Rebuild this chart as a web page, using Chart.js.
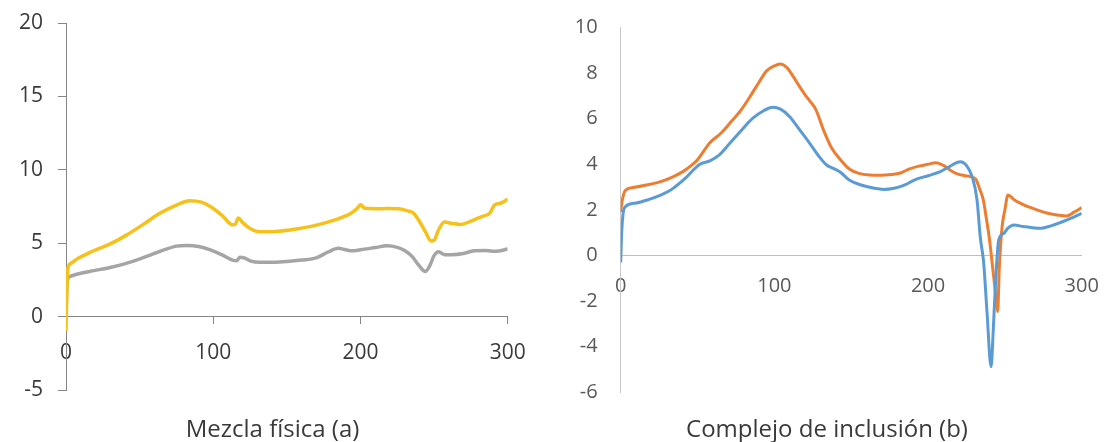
<!DOCTYPE html>
<html>
<head>
<meta charset="utf-8">
<script src="https://cdn.jsdelivr.net/npm/chart.js@4.4.0/dist/chart.umd.min.js"></script>
<style>
  html, body { margin: 0; padding: 0; background: #fff; }
  #wrap { position: relative; width: 1104px; height: 442px; }
  #mezcla { position: absolute; left: 0; top: 0; }
  #complejo { position: absolute; left: 550px; top: 0; }
</style>
</head>
<body>
<div id="wrap">
  <canvas id="mezcla" width="545" height="442"></canvas>
  <canvas id="complejo" width="554" height="442"></canvas>
</div>
<script>
// Mezcla física (a)
const mezclaTicksX = [0, 100, 200, 300];
const mezclaTicksY = [-5, 0, 5, 10, 15, 20];
const mezclaAmarilloX = [0, 0.4, 1.2, 3, 8, 18, 30, 41, 52, 64, 75, 84, 92, 98, 106, 113, 115, 117, 120, 125,
  130, 140, 152, 168, 180, 187, 193, 198, 200, 203, 210, 218, 226, 232, 236, 240, 244, 248, 250, 253,
  257, 262, 268, 275, 282, 288, 291, 295, 300];
const mezclaAmarilloY = [-1.0, 1.0, 3.2, 3.6, 3.95, 4.45, 4.95, 5.55, 6.25, 7.05, 7.6, 7.9, 7.8, 7.5, 6.9, 6.25, 6.3, 6.72, 6.4, 6.0,
  5.8, 5.78, 5.9, 6.18, 6.5, 6.75, 7.0, 7.4, 7.62, 7.38, 7.35, 7.36, 7.35, 7.2, 7.05, 6.5, 5.8, 5.15, 5.2, 5.9,
  6.45, 6.35, 6.28, 6.5, 6.8, 7.07, 7.6, 7.72, 8.0];
const mezclaGrisX = [0, 0.8, 3, 10, 19, 30, 41, 52, 64, 75, 82, 90, 98, 106, 113, 116, 118, 121, 125, 132,
  145, 160, 170, 178, 185, 190, 194, 200, 210, 218, 225, 230, 235, 240, 244, 247, 250, 253, 257, 262,
  270, 277, 285, 292, 300];
const mezclaGrisY = [0.3, 2.4, 2.75, 2.95, 3.13, 3.35, 3.63, 4.0, 4.45, 4.8, 4.85, 4.78, 4.55, 4.2, 3.85, 3.8, 4.05, 4.0, 3.8, 3.7,
  3.72, 3.85, 4.0, 4.4, 4.65, 4.55, 4.48, 4.55, 4.7, 4.82, 4.72, 4.5, 4.1, 3.45, 3.07, 3.45, 4.15, 4.42, 4.22, 4.22,
  4.3, 4.48, 4.5, 4.45, 4.6];

// Complejo de inclusión (b)
const complejoTicksX = [0, 100, 200, 300];
const complejoTicksY = [-6, -4, -2, 0, 2, 4, 6, 8, 10];
const complejoNaranjaX = [0, 0.7, 3, 8, 16, 26, 34, 41, 46, 50, 58, 65, 71, 78, 84, 90, 95, 100, 104, 108,
  112, 116, 120, 123, 127, 132, 137, 143, 149, 155, 162, 169, 176, 182, 188, 194, 200, 205, 210, 215,
  219, 224, 228, 231, 234, 236, 238, 240, 242.7, 244.5, 245.3, 246.4, 248.2, 250, 252, 256, 260, 265, 271, 278,
  284, 290, 295, 300];
const complejoNaranjaY = [1.9, 2.3, 2.85, 2.98, 3.08, 3.24, 3.45, 3.7, 3.95, 4.2, 4.95, 5.35, 5.8, 6.35, 6.95, 7.6, 8.1, 8.32, 8.4, 8.25,
  7.88, 7.45, 7.05, 6.78, 6.4, 5.5, 4.75, 4.2, 3.78, 3.6, 3.53, 3.52, 3.55, 3.62, 3.8, 3.92, 4.0, 4.07, 3.95, 3.72,
  3.58, 3.5, 3.45, 3.35, 2.85, 2.43, 1.6, 0.7, -0.93, -2.0, -2.46, -0.5, 1.26, 2.0, 2.65, 2.45, 2.3, 2.14, 2.0, 1.85,
  1.78, 1.73, 1.9, 2.1];
const complejoAzulX = [0, 0.5, 1.5, 3, 10, 18, 26, 32, 37, 43, 48, 52, 58, 64, 71, 78, 86, 93, 99, 104,
  110, 116, 123, 129, 134, 139, 143, 149, 157, 165, 171, 178, 185, 191, 200, 208, 214, 221, 225, 228.7,
  231.9, 234, 236.2, 238.4, 241, 242.5, 243.9, 246, 249.3, 252, 255.8, 262, 268, 273, 280, 290.5, 300];
const complejoAzulY = [-0.3, 0.8, 1.8, 2.14, 2.3, 2.45, 2.65, 2.85, 3.1, 3.45, 3.8, 4.02, 4.15, 4.4, 4.92, 5.45, 6.02, 6.35, 6.5, 6.42,
  6.09, 5.55, 4.92, 4.35, 3.97, 3.8, 3.65, 3.3, 3.08, 2.95, 2.9, 2.95, 3.1, 3.31, 3.5, 3.68, 3.9, 4.11, 3.95, 3.46,
  2.43, 0.8, -0.3, -2.5, -4.88, -3.2, -1.22, 0.68, 0.97, 1.2, 1.34, 1.27, 1.22, 1.19, 1.3, 1.56, 1.85];

const fontName = "'Open Sans', 'DejaVu Sans', sans-serif";

// pair x and y arrays into points
function puntos(xs, ys) {
  return xs.map((x, i) => ({ x: x, y: ys[i] }));
}

function serie(xs, ys, color, width) {
  return {
    data: puntos(xs, ys),
    borderColor: color,
    borderWidth: width,
    pointRadius: 0,
    showLine: true,
    fill: false,
    cubicInterpolationMode: 'monotone'
  };
}

// keep the label overhang from pushing the plot area around
function fijarY(ancho) {
  return function (scale) {
    scale.width = ancho;
    scale.paddingTop = 0;
    scale.paddingBottom = 0;
  };
}
function fijarX(scale) {
  scale.paddingLeft = 0;
  scale.paddingRight = 0;
}

// center the bottom title on the whole canvas, not on the padded box
const tituloCompleto = {
  id: 'tituloCompleto',
  afterLayout(chart) {
    const t = chart.titleBlock;
    if (t) {
      t.left = 0;
      t.right = chart.width;
      t.width = chart.width;
    }
  }
};

// --- left chart ---
new Chart('mezcla', {
  type: 'scatter',
  data: {
    datasets: [
      serie(mezclaAmarilloX, mezclaAmarilloY, '#F5C11A', 3.5),
      serie(mezclaGrisX, mezclaGrisY, '#A5A5A5', 3.5)
    ]
  },
  options: {
    responsive: false,
    animation: false,
    layout: { padding: { left: 0, right: 37.3, top: 23, bottom: 0 } },
    plugins: {
      legend: { display: false },
      tooltip: { enabled: false },
      title: {
        display: true,
        text: 'Mezcla física (a)',
        position: 'bottom',
        color: '#3a3a3a',
        font: { family: fontName, size: 24, weight: 'normal', lineHeight: 1 },
        padding: { top: 28, bottom: 0 }
      }
    },
    scales: {
      x: {
        type: 'linear',
        position: { y: 0 },
        min: mezclaTicksX[0],
        max: mezclaTicksX[mezclaTicksX.length - 1],
        ticks: {
          stepSize: mezclaTicksX[1] - mezclaTicksX[0],
          padding: 17,
          color: '#3a3a3a',
          font: { family: fontName, size: 21 },
          maxRotation: 0
        },
        grid: { drawOnChartArea: false, drawTicks: true, tickLength: 7, color: '#868686' },
        border: { display: true, color: '#868686', width: 1 },
        afterFit: fijarX
      },
      y: {
        min: mezclaTicksY[0],
        max: mezclaTicksY[mezclaTicksY.length - 1],
        ticks: {
          stepSize: mezclaTicksY[1] - mezclaTicksY[0],
          padding: 15,
          color: '#3a3a3a',
          font: { family: fontName, size: 21 }
        },
        grid: { drawOnChartArea: false, drawTicks: true, tickLength: 8, color: '#868686' },
        border: { display: true, color: '#868686', width: 1 },
        afterFit: fijarY(66)
      }
    }
  },
  plugins: [tituloCompleto]
});

// --- right chart ---
new Chart('complejo', {
  type: 'scatter',
  data: {
    datasets: [
      serie(complejoAzulX, complejoAzulY, '#5B9BD5', 3),
      serie(complejoNaranjaX, complejoNaranjaY, '#ED7D31', 3)
    ]
  },
  options: {
    responsive: false,
    animation: false,
    layout: { padding: { left: 0, right: 22.3, top: 27.5, bottom: 0 } },
    plugins: {
      legend: { display: false },
      tooltip: { enabled: false },
      title: {
        display: true,
        text: 'Complejo de inclusión (b)',
        position: 'bottom',
        color: '#3a3a3a',
        font: { family: fontName, size: 24, weight: 'normal', lineHeight: 1 },
        padding: { top: 25.7, bottom: 0 }
      }
    },
    scales: {
      x: {
        type: 'linear',
        position: { y: 0 },
        min: complejoTicksX[0],
        max: complejoTicksX[complejoTicksX.length - 1],
        ticks: {
          stepSize: complejoTicksX[1] - complejoTicksX[0],
          padding: 19,
          color: '#595959',
          font: { family: fontName, size: 20 },
          maxRotation: 0
        },
        grid: { drawOnChartArea: false, drawTicks: false },
        border: { display: true, color: '#BFBFBF', width: 1 },
        afterFit: fijarX
      },
      y: {
        min: complejoTicksY[0],
        max: complejoTicksY[complejoTicksY.length - 1],
        ticks: {
          stepSize: complejoTicksY[1] - complejoTicksY[0],
          padding: 23,
          color: '#595959',
          font: { family: fontName, size: 20 }
        },
        grid: { drawOnChartArea: false, drawTicks: false },
        border: { display: true, color: '#C8C8C8', width: 1 },
        afterFit: fijarY(70.7)
      }
    }
  },
  plugins: [tituloCompleto]
});
</script>
</body>
</html>
